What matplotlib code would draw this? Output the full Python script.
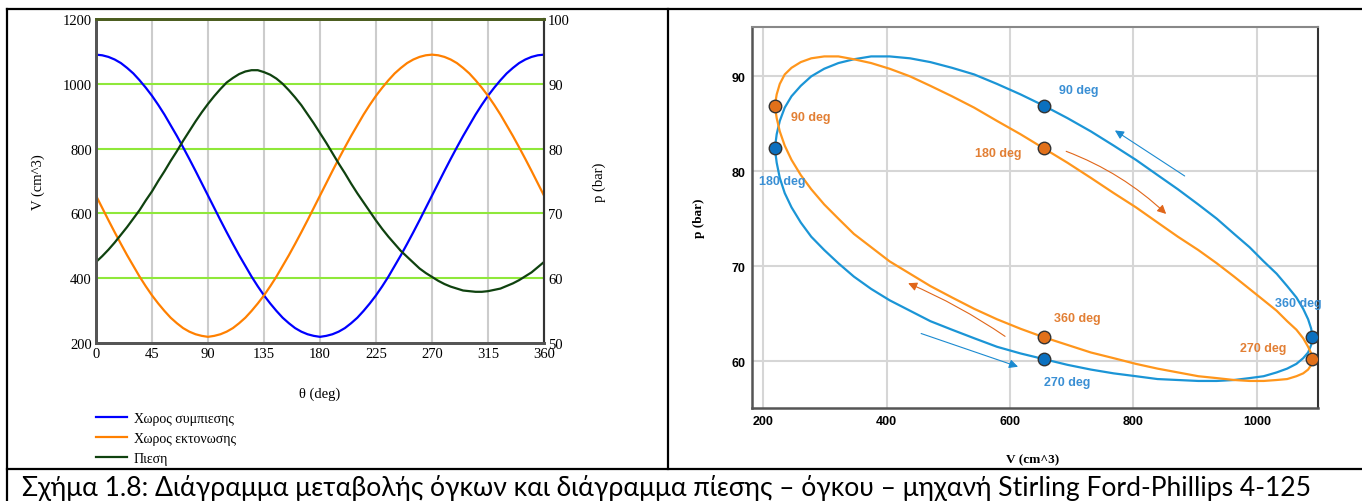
import numpy as np
import matplotlib
matplotlib.use("Agg")
import matplotlib.pyplot as plt
from matplotlib.lines import Line2D

## Values (every 5 deg of crank angle)
theta = list(range(0, 361, 5))
v_comp = [1090, 1088, 1083, 1075, 1064, 1049, 1032, 1011, 988, 963, 935, 905, 872, 839, 804, 768, 731, 693,
          655, 617, 579, 542, 506, 471, 438, 405, 375, 347, 322, 299, 278, 261, 246, 235, 227, 222, 219,
          222, 227, 235, 246, 261, 278, 299, 322, 347, 375, 405, 438, 471, 506, 542, 579, 617, 655,
          693, 731, 768, 804, 839, 872, 905, 935, 963, 988, 1011, 1032, 1049, 1064, 1075, 1083, 1088, 1090]
v_exp = [655, 617, 579, 542, 506, 471, 438, 405, 375, 347, 322, 299, 278, 261, 246, 235, 227, 222, 219,
         222, 227, 235, 246, 261, 278, 299, 322, 347, 375, 405, 438, 471, 506, 542, 579, 617, 655,
         693, 731, 768, 804, 839, 872, 905, 935, 963, 988, 1011, 1032, 1049, 1064, 1075, 1083, 1088, 1090,
         1088, 1083, 1075, 1064, 1049, 1032, 1011, 988, 963, 935, 905, 872, 839, 804, 768, 731, 693, 655]
p_bar = [62.5, 63.4, 64.4, 65.5, 66.7, 67.9, 69.2, 70.5, 72.0, 73.4, 75.0, 76.5, 78.1, 79.6, 81.2, 82.7,
         84.2, 85.6, 86.9, 88.1, 89.2, 90.2, 90.9, 91.5, 91.9, 92.1, 92.1, 91.8, 91.4, 90.8, 90.0, 89.0,
         87.9, 86.7, 85.3, 83.9, 82.4, 80.9, 79.3, 77.7, 76.2, 74.6, 73.1, 71.7, 70.3, 68.9, 67.6, 66.4,
         65.3, 64.2, 63.3, 62.4, 61.5, 60.8, 60.2, 59.6, 59.1, 58.7, 58.4, 58.1, 58.0, 57.9, 57.9, 58.0,
         58.2, 58.4, 58.8, 59.2, 59.7, 60.3, 60.9, 61.7, 62.5]

legend_labels = ["Χωρος συμπιεσης", "Χωρος εκτονωσης", "Πιεση"]
mark_deg = [90, 180, 270, 360]
mark_labels = ["90 deg", "180 deg", "270 deg", "360 deg"]
caption = "Σχήμα 1.8: Διάγραμμα μεταβολής όγκων και διάγραμμα πίεσης – όγκου – μηχανή Stirling Ford-Phillips 4-125"

W, H = 1362, 502
fig = plt.figure(figsize=(W / 100, H / 100), dpi=100)
fig.patch.set_facecolor("white")


def fx(px):
    return px / W


def fy(py):
    return 1 - py / H


serif = "Liberation Serif"

# ---------------- left panel: volumes and pressure vs angle ----------------
ax = fig.add_axes([fx(96), fy(344), fx(544) - fx(96), fy(20) - fy(344)])
ax.set_xlim(0, 360)
ax.set_ylim(200, 1200)
ax.set_xticks([0, 45, 90, 135, 180, 225, 270, 315, 360])
ax.set_yticks([200, 400, 600, 800, 1000, 1200])
for v in [45, 90, 135, 180, 225, 270, 315]:
    ax.axvline(v, color="#cccccc", lw=1.5, zorder=0)
for v in [400, 600, 800, 1000]:
    ax.axhline(v, color="#8fe83a", lw=1.5, zorder=0)
l1, = ax.plot(theta, v_comp, color="#0000ff", lw=1.6)
l2, = ax.plot(theta, v_exp, color="#ff8000", lw=1.6)
ax.tick_params(length=0, labelsize=10.5, pad=3)
for t in ax.get_xticklabels() + ax.get_yticklabels():
    t.set_fontfamily(serif)
ax.set_ylabel("V (cm^3)", fontfamily=serif, fontsize=10.5)
ax.yaxis.set_label_coords(-0.114, 0.5)
ax.set_xlabel("θ (deg)", fontfamily=serif, fontsize=10.5)
ax.xaxis.set_label_coords(0.5, -0.133)

ax2 = ax.twinx()
ax2.set_ylim(50, 100)
ax2.set_yticks([50, 60, 70, 80, 90, 100])
l3, = ax2.plot(theta, p_bar, color="#0f420f", lw=1.6)
ax2.tick_params(length=0, labelsize=10.5, pad=3)
for t in ax2.get_yticklabels():
    t.set_fontfamily(serif)
ax2.set_ylabel("p (bar)", fontfamily=serif, fontsize=10.5)
ax2.yaxis.set_label_coords(1.109, 0.5)

for a in (ax, ax2):
    a.spines["top"].set_color("#4b5d1f")
    a.spines["top"].set_linewidth(2)
    a.spines["left"].set_color("#555555")
    a.spines["left"].set_linewidth(2)
    a.spines["bottom"].set_color("#555555")
    a.spines["bottom"].set_linewidth(2)
    a.spines["right"].set_color("#333333")
    a.spines["right"].set_linewidth(1.5)

ax.legend([l1, l2, l3], legend_labels, loc="upper left", bbox_to_anchor=(0.0, -0.213),
          frameon=False, prop={"family": serif, "size": 10}, handlelength=2.2,
          handletextpad=0.5, labelspacing=0.5, borderpad=0, borderaxespad=0)

# ---------------- right panel: p-V loops ----------------
bx = fig.add_axes([fx(752), fy(409), fx(1318) - fx(752), fy(28) - fy(409)])
bx.set_xlim(182, 1099)
bx.set_ylim(55.05, 95.2)
bx.set_xticks([200, 400, 600, 800, 1000])
bx.set_yticks([60, 70, 80, 90])
bx.grid(True, color="#d6d6d6", lw=1.5)
bx.set_axisbelow(True)
blue, orange = "#1b95d6", "#ff961c"
bx.plot(v_comp, p_bar, color=blue, lw=1.6)
bx.plot(v_exp, p_bar, color=orange, lw=1.6)

idx = [theta.index(d) for d in mark_deg]
bx.plot([v_comp[i] for i in idx], [p_bar[i] for i in idx], "o", ms=9, color="#0b70bf",
        mec="#333333", mew=1, zorder=5)
bx.plot([v_exp[i] for i in idx], [p_bar[i] for i in idx], "o", ms=9, color="#e1701a",
        mec="#333333", mew=1, zorder=5)

# label offsets (data units) relative to each marker
blue_off = [(24, 1.7), (-26, -3.4), (0, -2.4), (-61, 3.6)]
orange_off = [(26, -1.2), (-112, -0.5), (-117, 1.2), (16, 2.0)]
for i, lab, (dx, dy) in zip(idx, mark_labels, blue_off):
    bx.text(v_comp[i] + dx, p_bar[i] + dy, lab, color="#3a8fd4", fontsize=9, fontweight="bold",
            ha="left", va="center", fontfamily="Liberation Sans", zorder=6)
for i, lab, (dx, dy) in zip(idx, mark_labels, orange_off):
    bx.text(v_exp[i] + dx, p_bar[i] + dy, lab, color="#e27f34", fontsize=9, fontweight="bold",
            ha="left", va="center", fontfamily="Liberation Sans", zorder=6)

# direction arrows
arrows = [((883, 79.5), (770, 84.3), "#1b8ad0", 0.0),
          ((691, 82.1), (853, 75.5), "#e0661a", -0.1),
          ((592, 62.6), (435, 68.2), "#e0661a", 0.05),
          ((456, 62.9), (613, 59.4), "#1b8ad0", 0.0)]
for tail, head, col, rad in arrows:
    bx.annotate("", xy=head, xytext=tail,
                arrowprops=dict(arrowstyle="-|>", color=col, lw=0.8, mutation_scale=13,
                                connectionstyle=f"arc3,rad={rad}", shrinkA=0, shrinkB=0))

bx.tick_params(length=0, labelsize=9, pad=5)
for t in bx.get_xticklabels() + bx.get_yticklabels():
    t.set_fontweight("bold")
    t.set_fontfamily("Liberation Sans")
bx.set_ylabel("p (bar)", fontfamily=serif, fontweight="bold", fontsize=9.5)
bx.yaxis.set_label_coords(-0.083, 0.5)
bx.set_xlabel("V (cm^3)", fontfamily=serif, fontweight="bold", fontsize=9.5)
bx.xaxis.set_label_coords(0.496, -0.118)
for s in ["left", "bottom"]:
    bx.spines[s].set_color("#555555")
    bx.spines[s].set_linewidth(1.8)
bx.spines["top"].set_color("#888888")
bx.spines["top"].set_linewidth(1.5)
bx.spines["right"].set_color("#333333")
bx.spines["right"].set_linewidth(1.5)

# ---------------- table frame and caption ----------------
frame = [((7, 7), (10, H)), ((7, W), (10, 10)), ((668, 668), (10, 470)), ((7, W), (470, 470))]
for xs, ys in frame:
    fig.add_artist(Line2D([fx(x) for x in xs], [fy(y) for y in ys], color="black", lw=1.6))

cap = fig.text(fx(22), fy(496), caption, fontfamily="Lato", fontsize=16, ha="left", va="baseline")
fig.canvas.draw()
wpx = cap.get_window_extent(fig.canvas.get_renderer()).width
cap.set_fontsize(16 * 1293 / wpx)

fig.savefig("out.png", dpi=100, facecolor="white")
